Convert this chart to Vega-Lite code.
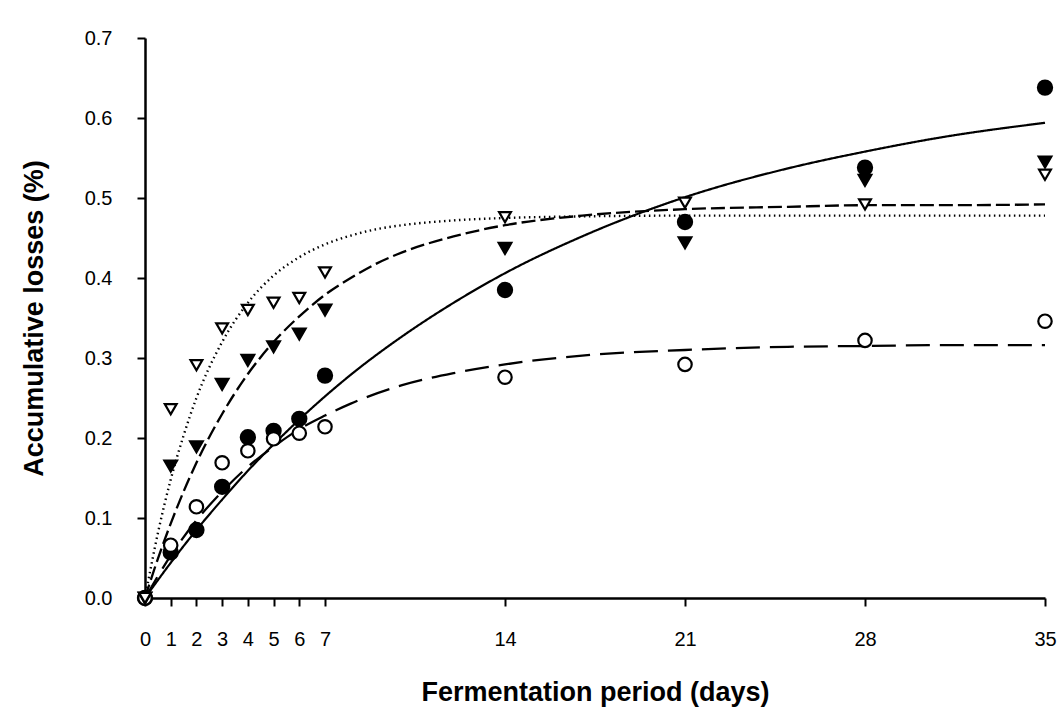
{
  "$schema": "https://vega.github.io/schema/vega-lite/v6.json",
  "width": 900,
  "height": 560,
  "autosize": {"type": "none"},
  "padding": {"left": 145, "top": 38, "right": 14, "bottom": 122},
  "background": "white",
  "config": {
    "view": {"stroke": null},
    "axis": {
      "grid": false,
      "domainColor": "black",
      "domainWidth": 2.5,
      "tickColor": "black",
      "tickWidth": 2,
      "tickSize": 8,
      "labelFont": "Liberation Sans",
      "labelFontSize": 20,
      "labelColor": "black",
      "titleFont": "Liberation Sans",
      "titleFontWeight": "bold",
      "titleFontSize": 27,
      "titleColor": "black"
    }
  },
  "datasets": {
    "points": [
      {"day": 0, "loss": 0, "series": "A"},
      {"day": 1, "loss": 0.057, "series": "A"},
      {"day": 2, "loss": 0.085, "series": "A"},
      {"day": 3, "loss": 0.139, "series": "A"},
      {"day": 4, "loss": 0.201, "series": "A"},
      {"day": 5, "loss": 0.209, "series": "A"},
      {"day": 6, "loss": 0.224, "series": "A"},
      {"day": 7, "loss": 0.278, "series": "A"},
      {"day": 14, "loss": 0.385, "series": "A"},
      {"day": 21, "loss": 0.47, "series": "A"},
      {"day": 28, "loss": 0.538, "series": "A"},
      {"day": 35, "loss": 0.638, "series": "A"},
      {"day": 0, "loss": 0, "series": "B"},
      {"day": 1, "loss": 0.066, "series": "B"},
      {"day": 2, "loss": 0.114, "series": "B"},
      {"day": 3, "loss": 0.169, "series": "B"},
      {"day": 4, "loss": 0.184, "series": "B"},
      {"day": 5, "loss": 0.199, "series": "B"},
      {"day": 6, "loss": 0.206, "series": "B"},
      {"day": 7, "loss": 0.214, "series": "B"},
      {"day": 14, "loss": 0.276, "series": "B"},
      {"day": 21, "loss": 0.292, "series": "B"},
      {"day": 28, "loss": 0.322, "series": "B"},
      {"day": 35, "loss": 0.346, "series": "B"},
      {"day": 0, "loss": 0, "series": "C"},
      {"day": 1, "loss": 0.165, "series": "C"},
      {"day": 2, "loss": 0.189, "series": "C"},
      {"day": 3, "loss": 0.267, "series": "C"},
      {"day": 4, "loss": 0.297, "series": "C"},
      {"day": 5, "loss": 0.314, "series": "C"},
      {"day": 6, "loss": 0.33, "series": "C"},
      {"day": 7, "loss": 0.36, "series": "C"},
      {"day": 14, "loss": 0.437, "series": "C"},
      {"day": 21, "loss": 0.444, "series": "C"},
      {"day": 28, "loss": 0.522, "series": "C"},
      {"day": 35, "loss": 0.545, "series": "C"},
      {"day": 0, "loss": 0, "series": "D"},
      {"day": 1, "loss": 0.236, "series": "D"},
      {"day": 2, "loss": 0.291, "series": "D"},
      {"day": 3, "loss": 0.337, "series": "D"},
      {"day": 4, "loss": 0.36, "series": "D"},
      {"day": 5, "loss": 0.369, "series": "D"},
      {"day": 6, "loss": 0.375, "series": "D"},
      {"day": 7, "loss": 0.407, "series": "D"},
      {"day": 14, "loss": 0.476, "series": "D"},
      {"day": 21, "loss": 0.494, "series": "D"},
      {"day": 28, "loss": 0.492, "series": "D"},
      {"day": 35, "loss": 0.529, "series": "D"}
    ],
    "curves": [
      {"day": 0, "loss": 0, "series": "A"},
      {"day": 1, "loss": 0.044, "series": "A"},
      {"day": 2, "loss": 0.085, "series": "A"},
      {"day": 3, "loss": 0.123, "series": "A"},
      {"day": 4, "loss": 0.159, "series": "A"},
      {"day": 5, "loss": 0.192, "series": "A"},
      {"day": 6, "loss": 0.223, "series": "A"},
      {"day": 7, "loss": 0.252, "series": "A"},
      {"day": 8, "loss": 0.279, "series": "A"},
      {"day": 10, "loss": 0.327, "series": "A"},
      {"day": 12, "loss": 0.369, "series": "A"},
      {"day": 14, "loss": 0.406, "series": "A"},
      {"day": 17, "loss": 0.452, "series": "A"},
      {"day": 21, "loss": 0.501, "series": "A"},
      {"day": 25, "loss": 0.537, "series": "A"},
      {"day": 28, "loss": 0.558, "series": "A"},
      {"day": 31, "loss": 0.576, "series": "A"},
      {"day": 35, "loss": 0.594, "series": "A"},
      {"day": 0, "loss": 0, "series": "B"},
      {"day": 1, "loss": 0.053, "series": "B"},
      {"day": 2, "loss": 0.097, "series": "B"},
      {"day": 3, "loss": 0.133, "series": "B"},
      {"day": 4, "loss": 0.164, "series": "B"},
      {"day": 5, "loss": 0.189, "series": "B"},
      {"day": 6, "loss": 0.211, "series": "B"},
      {"day": 7, "loss": 0.228, "series": "B"},
      {"day": 8, "loss": 0.243, "series": "B"},
      {"day": 10, "loss": 0.266, "series": "B"},
      {"day": 12, "loss": 0.281, "series": "B"},
      {"day": 14, "loss": 0.292, "series": "B"},
      {"day": 17, "loss": 0.303, "series": "B"},
      {"day": 21, "loss": 0.31, "series": "B"},
      {"day": 25, "loss": 0.314, "series": "B"},
      {"day": 28, "loss": 0.315, "series": "B"},
      {"day": 31, "loss": 0.316, "series": "B"},
      {"day": 35, "loss": 0.316, "series": "B"},
      {"day": 0, "loss": 0, "series": "C"},
      {"day": 0.5, "loss": 0.049, "series": "C"},
      {"day": 1, "loss": 0.093, "series": "C"},
      {"day": 1.5, "loss": 0.133, "series": "C"},
      {"day": 2, "loss": 0.169, "series": "C"},
      {"day": 3, "loss": 0.23, "series": "C"},
      {"day": 4, "loss": 0.28, "series": "C"},
      {"day": 5, "loss": 0.32, "series": "C"},
      {"day": 6, "loss": 0.352, "series": "C"},
      {"day": 7, "loss": 0.379, "series": "C"},
      {"day": 8, "loss": 0.4, "series": "C"},
      {"day": 9, "loss": 0.418, "series": "C"},
      {"day": 10, "loss": 0.432, "series": "C"},
      {"day": 12, "loss": 0.452, "series": "C"},
      {"day": 14, "loss": 0.466, "series": "C"},
      {"day": 17, "loss": 0.478, "series": "C"},
      {"day": 21, "loss": 0.486, "series": "C"},
      {"day": 25, "loss": 0.489, "series": "C"},
      {"day": 28, "loss": 0.491, "series": "C"},
      {"day": 31, "loss": 0.491, "series": "C"},
      {"day": 35, "loss": 0.492, "series": "C"},
      {"day": 0, "loss": 0, "series": "D"},
      {"day": 0.5, "loss": 0.081, "series": "D"},
      {"day": 1, "loss": 0.148, "series": "D"},
      {"day": 1.5, "loss": 0.203, "series": "D"},
      {"day": 2, "loss": 0.25, "series": "D"},
      {"day": 3, "loss": 0.32, "series": "D"},
      {"day": 4, "loss": 0.369, "series": "D"},
      {"day": 5, "loss": 0.403, "series": "D"},
      {"day": 6, "loss": 0.426, "series": "D"},
      {"day": 7, "loss": 0.442, "series": "D"},
      {"day": 8, "loss": 0.453, "series": "D"},
      {"day": 9, "loss": 0.461, "series": "D"},
      {"day": 10, "loss": 0.466, "series": "D"},
      {"day": 12, "loss": 0.472, "series": "D"},
      {"day": 14, "loss": 0.475, "series": "D"},
      {"day": 17, "loss": 0.477, "series": "D"},
      {"day": 21, "loss": 0.478, "series": "D"},
      {"day": 28, "loss": 0.478, "series": "D"},
      {"day": 35, "loss": 0.478, "series": "D"}
    ]
  },
  "layer": [
    {
      "data": {"name": "curves"},
      "mark": {"type": "line", "interpolate": "monotone", "color": "black"},
      "encoding": {
        "x": {
          "field": "day", "type": "quantitative",
          "scale": {"domain": [0, 35], "nice": false, "zero": false},
          "axis": {
            "title": "Fermentation period (days)",
            "values": [0, 1, 2, 3, 4, 5, 6, 7, 14, 21, 28, 35],
            "labelOverlap": false,
            "labelFlush": false,
            "labelPadding": 23,
            "titlePadding": 30
          }
        },
        "y": {
          "field": "loss", "type": "quantitative",
          "scale": {"domain": [0, 0.7], "nice": false},
          "axis": {
            "title": "Accumulative losses (%)",
            "values": [0, 0.1, 0.2, 0.3, 0.4, 0.5, 0.6, 0.7],
            "format": ".1f",
            "labelPadding": 25,
            "titlePadding": 36
          }
        },
        "strokeDash": {
          "field": "series", "type": "nominal",
          "scale": {"domain": ["A", "B", "C", "D"], "range": [[1, 0], [24, 10], [14, 5], [1.5, 3.5]]},
          "legend": null
        },
        "strokeWidth": {
          "field": "series", "type": "nominal",
          "scale": {"domain": ["A", "B", "C", "D"], "range": [2.2, 2.4, 2.6, 1.8]},
          "legend": null
        }
      }
    },
    {
      "data": {"name": "points"},
      "mark": {"type": "point", "filled": true, "stroke": "black", "strokeWidth": 2.2, "opacity": 1, "fillOpacity": 1},
      "encoding": {
        "x": {"field": "day", "type": "quantitative"},
        "y": {"field": "loss", "type": "quantitative"},
        "shape": {
          "field": "series", "type": "nominal",
          "scale": {"domain": ["A", "B", "C", "D"], "range": ["circle", "circle", "triangle-down", "triangle-down"]},
          "legend": null
        },
        "fill": {
          "field": "series", "type": "nominal",
          "scale": {"domain": ["A", "B", "C", "D"], "range": ["black", "white", "black", "white"]},
          "legend": null
        },
        "size": {
          "field": "series", "type": "nominal",
          "scale": {"domain": ["A", "B", "C", "D"], "range": [200, 140, 310, 340]},
          "legend": null
        }
      }
    }
  ]
}
